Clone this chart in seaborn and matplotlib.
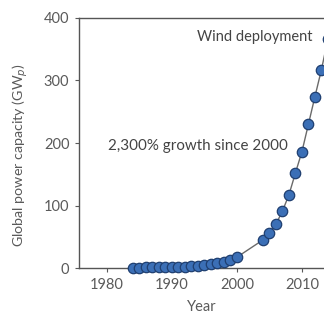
import matplotlib
matplotlib.use("Agg")
import matplotlib.pyplot as plt
import seaborn as sns
import pandas as pd

years = [1984, 1985, 1986, 1987, 1988, 1989, 1990, 1991, 1992, 1993, 1994,
         1995, 1996, 1997, 1998, 1999, 2000,
         2004, 2005, 2006, 2007, 2008, 2009, 2010, 2011, 2012, 2013, 2014]
capacity = [0.5, 0.8, 1.0, 1.2, 1.5, 1.7, 2.0, 2.2, 2.5, 3.0, 3.5,
            4.8, 6.1, 7.6, 10.2, 13.6, 17.4,
            45, 56, 70, 91, 117, 152, 186, 230, 274, 317, 366]
df = pd.DataFrame({"Year": years, "Capacity": capacity})

sns.set_style("ticks")
plt.rcParams["font.family"] = ["Lato", "DejaVu Sans"]

fig = plt.figure(figsize=(3.24, 3.15), dpi=100)
ax = fig.add_axes([0.244, 0.149, 0.756, 0.794])

text_c = "#5a5a5a"
sns.lineplot(data=df, x="Year", y="Capacity", ax=ax, color="#6a6a6a",
             linewidth=1.0, marker="o", markersize=7.5,
             markerfacecolor="#3b6fb6", markeredgecolor="#1f3f70",
             markeredgewidth=0.9, clip_on=False, zorder=3)

ax.set_xlim(1975.7, 2013.4)
ax.set_ylim(0, 400)
ax.set_xticks([1980, 1990, 2000, 2010])
ax.set_yticks([0, 100, 200, 300, 400])
ax.tick_params(axis="both", labelsize=10.5, colors=text_c, length=3, width=0.8,
               labelcolor=text_c, pad=4)
for s in ["left", "bottom", "top"]:
    ax.spines[s].set_color("#555555")
    ax.spines[s].set_linewidth(1.0)
ax.spines["right"].set_visible(False)

ax.set_xlabel("Year", fontsize=10.5, color=text_c, labelpad=6)
ax.set_ylabel("Global power capacity (GW$_p$)", fontsize=10.3, color=text_c)
ax.yaxis.set_label_coords(-0.20, 0.452)

ax.text(0.955, 0.925, "Wind deployment", transform=ax.transAxes,
        ha="right", va="center", fontsize=10.5, color="#444444")
ax.text(0.119, 0.49, "2,300% growth since 2000", transform=ax.transAxes,
        ha="left", va="center", fontsize=10.9, color="#444444")

fig.savefig("out.png", dpi=100)
